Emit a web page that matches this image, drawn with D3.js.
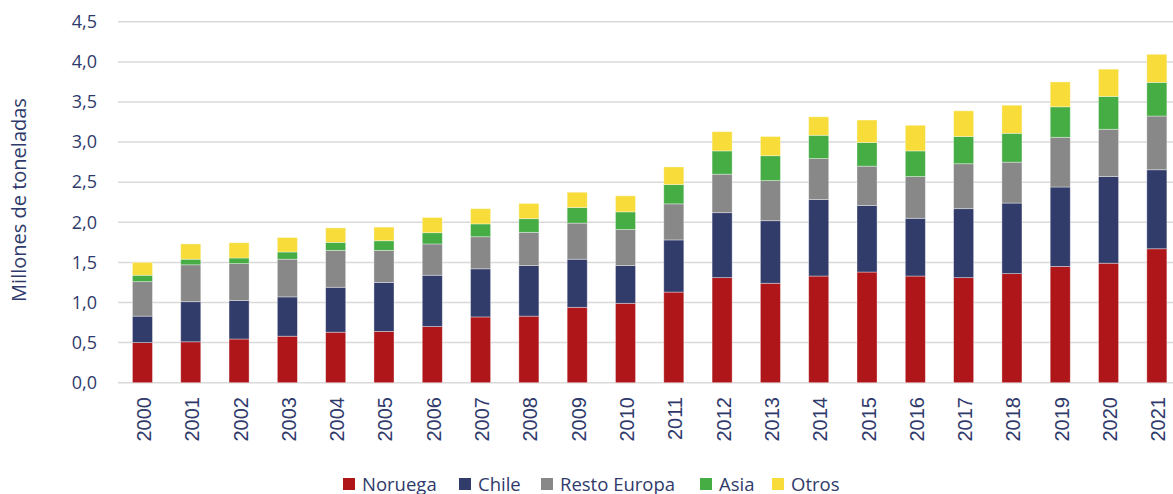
<!DOCTYPE html>
<html><head><meta charset="utf-8">
<script src="https://cdn.jsdelivr.net/npm/d3@7/dist/d3.min.js"></script>
<style>
html,body{margin:0;padding:0;background:#fff;}
svg{display:block;font-family:"Open Sans","Noto Sans",sans-serif;}
</style></head>
<body><svg id="chart" width="1173" height="494"></svg>
<script>
const years = ["2000","2001","2002","2003","2004","2005","2006","2007","2008","2009","2010","2011","2012","2013","2014","2015","2016","2017","2018","2019","2020","2021"];
const noruega = [0.50,0.51,0.545,0.58,0.63,0.64,0.70,0.82,0.83,0.94,0.99,1.13,1.31,1.24,1.33,1.38,1.33,1.31,1.36,1.45,1.49,1.67];
const chile = [0.33,0.50,0.48,0.49,0.56,0.61,0.64,0.60,0.63,0.60,0.47,0.65,0.81,0.78,0.955,0.83,0.72,0.86,0.88,0.99,1.08,0.985];
const restoEuropa = [0.43,0.46,0.46,0.47,0.46,0.40,0.39,0.40,0.415,0.45,0.45,0.45,0.48,0.50,0.51,0.49,0.52,0.56,0.51,0.62,0.59,0.67];
const asia = [0.08,0.07,0.07,0.09,0.10,0.12,0.14,0.16,0.17,0.195,0.22,0.24,0.29,0.31,0.29,0.295,0.32,0.34,0.36,0.38,0.41,0.42];
const otros = [0.16,0.19,0.19,0.18,0.18,0.17,0.19,0.19,0.19,0.19,0.20,0.22,0.24,0.24,0.23,0.28,0.32,0.32,0.35,0.31,0.34,0.35];
const seriesNames = ["Noruega","Chile","Resto Europa","Asia","Otros"];
const seriesColors = ["#ae161a","#323c6b","#888888","#46ad45","#f7dc3a"];
const yTicks = [0,0.5,1,1.5,2,2.5,3,3.5,4,4.5];

const textColor = "#2f3a6b";
const svg = d3.select("#chart");
const seriesData = [noruega, chile, restoEuropa, asia, otros];
const rows = years.map((y,i)=>{
  const r = {year:y};
  seriesNames.forEach((n,k)=>{ r[n]=seriesData[k][i]; });
  return r;
});
const stacked = d3.stack().keys(seriesNames)(rows);

const x = d3.scaleBand().domain(years).range([118.3,1181]).paddingInner(0.585).paddingOuter(0.2925);
const y = d3.scaleLinear().domain([0,4.5]).range([382.7,21.8]);

// gridlines
svg.append("g").selectAll("line").data(yTicks).join("line")
  .attr("x1",118).attr("x2",1173)
  .attr("y1",d=>y(d)).attr("y2",d=>y(d))
  .attr("stroke","#d9d9d9").attr("stroke-width",1.5);

// y axis labels
const yAxis = d3.axisLeft(y).tickValues(yTicks).tickSize(0).tickPadding(0)
  .tickFormat(d=>d3.format(".1f")(d).replace(".",","));
const gy = svg.append("g").attr("transform","translate(97,0)").call(yAxis);
gy.select(".domain").remove();
gy.selectAll("text").attr("fill",textColor).style("font-size","18px").style("font-family","'Open Sans','Noto Sans',sans-serif");

// bars
svg.append("g").selectAll("g").data(stacked).join("g")
  .attr("fill",(d,i)=>seriesColors[i])
  .selectAll("rect").data(d=>d).join("rect")
  .attr("x",d=>x(d.data.year))
  .attr("width",x.bandwidth())
  .attr("y",d=>y(d[1]))
  .attr("height",d=>y(d[0])-y(d[1]))
  .attr("stroke","#ffffff").attr("stroke-opacity",0.45).attr("stroke-width",0.8);

// x axis labels
const xAxis = d3.axisBottom(x).tickSize(0).tickPadding(0);
const gx = svg.append("g").attr("transform","translate(0,397)").call(xAxis);
gx.select(".domain").remove();
gx.selectAll("text")
  .attr("fill",textColor).style("font-size","20px").style("font-family","'Liberation Sans',Arial,sans-serif")
  .attr("transform","rotate(-90)")
  .attr("text-anchor","end")
  .attr("x",0).attr("y",1.5).attr("dy","0.35em").attr("dx","0");

// y title
svg.append("text")
  .attr("transform","translate(26,200) rotate(-90)")
  .attr("text-anchor","middle")
  .attr("fill",textColor).style("font-size","20px")
  .text("Millones de toneladas");

// legend
const legendX = [343,459,541,700,772];
const lg = svg.append("g").selectAll("g").data(seriesNames).join("g")
  .attr("transform",(d,i)=>`translate(${legendX[i]},478)`);
lg.append("rect").attr("width",12).attr("height",12).attr("fill",(d,i)=>seriesColors[i]);
lg.append("text").attr("x",19).attr("y",12.5).attr("fill",textColor).style("font-size","18.5px").text(d=>d);
</script></body></html>
